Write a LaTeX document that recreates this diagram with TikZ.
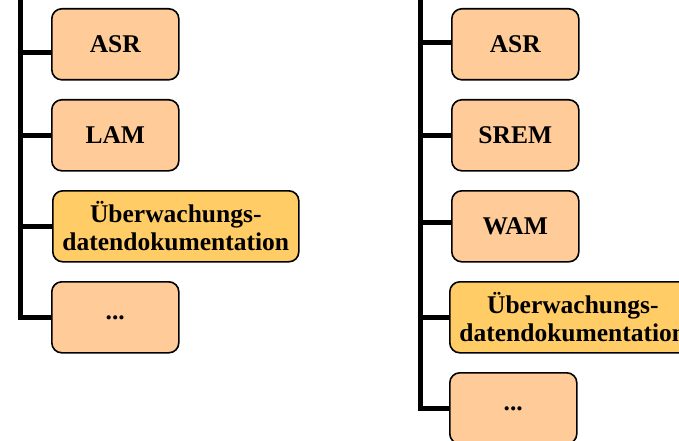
\documentclass[tikz,border=0pt]{standalone}
\usepackage{fontspec}
\setmainfont{Liberation Serif}
\definecolor{peach}{HTML}{FFCC99}
\definecolor{gold}{HTML}{FFCC66}
\begin{document}
\begin{tikzpicture}[x=1pt,y=-1pt,
  box/.style={draw=black,line width=1.6pt,rounded corners=10pt,fill=peach,
    minimum width=127pt,minimum height=71pt,anchor=north west,inner sep=0pt,
    font=\fontsize{25.5}{28}\selectfont\bfseries,align=center},
  widebox/.style={box,fill=gold,minimum width=246pt},
  trunk/.style={line width=5pt,draw=black}]
\useasboundingbox (0,0) rectangle (679,441);
% left column
\node[box] (LASR) at (51,8) {ASR};
\node[box] (LLAM) at (51,99) {LAM};
\node[widebox] (LUEB) at (52,190) {Überwachungs-\\datendokumentation};
\node[box] (LDOT) at (51,281) {...};
\coordinate (Ltop) at (20,-5);
\coordinate (LASRc) at ([yshift=-8pt]LASR.west);
\draw[trunk] (Ltop) |- (LDOT.west);
\draw[trunk] (Ltop |- LASRc) -- (LASRc);
\draw[trunk] (Ltop |- LLAM.west) -- (LLAM.west);
\draw[trunk] (Ltop |- LUEB.west) -- (LUEB.west);
% right column
\node[box] (RASR) at (451,8) {ASR};
\node[box] (RSREM) at (451,99) {SREM};
\node[box] (RWAM) at (451,190) {WAM};
\node[widebox] (RUEB) at (449,281) {Überwachungs-\\datendokumentation};
\node[box] (RDOT) at (449,372) {...};
\coordinate (Rtop) at (420,-5);
\coordinate (RASRc) at ([yshift=2pt]RASR.west);
\coordinate (RWAMc) at ([yshift=4pt]RWAM.west);
\draw[trunk] (Rtop) |- (RDOT.west);
\draw[trunk] (Rtop |- RASRc) -- (RASRc);
\draw[trunk] (Rtop |- RSREM.west) -- (RSREM.west);
\draw[trunk] (Rtop |- RWAMc) -- (RWAMc);
\draw[trunk] (Rtop |- RUEB.west) -- (RUEB.west);
\end{tikzpicture}
\end{document}
